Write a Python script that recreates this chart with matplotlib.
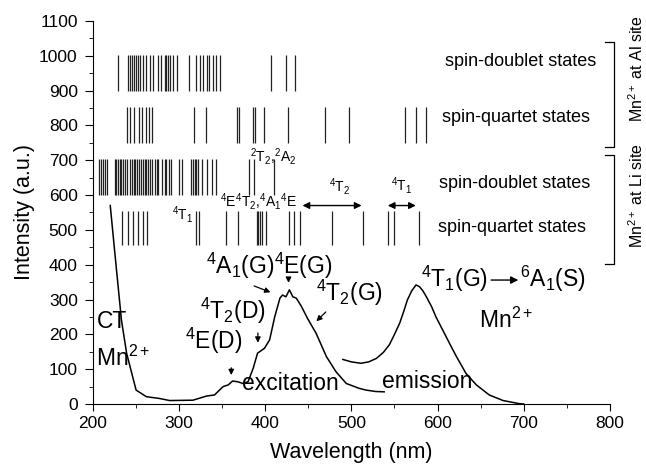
import matplotlib
matplotlib.use('Agg')
import matplotlib.pyplot as plt

plt.rcParams['font.family'] = ['Liberation Sans', 'DejaVu Sans']
plt.rcParams['mathtext.fontset'] = 'custom'
plt.rcParams['mathtext.rm'] = 'Liberation Sans'
plt.rcParams['mathtext.it'] = 'Liberation Sans'

# stick spectra (calculated levels, nm)
al_doublet = [229, 241, 243, 245, 247, 250, 252, 254, 258, 262, 266, 270, 275, 279, 283, 285,
              287, 289, 293, 297, 312, 320, 324, 328, 332, 335, 339, 343, 347, 407, 424, 434]
al_quartet = [239, 243, 248, 253, 257, 261, 265, 268, 317, 331, 367, 369, 386, 388, 399, 426,
              469, 497, 562, 575, 587]
li_doublet = [207, 209, 212, 214, 216, 225, 227, 229, 231, 233, 235, 237, 240, 243, 245, 247,
              249, 251, 253, 256, 258, 260, 262, 264, 266, 268, 272, 274, 276, 280, 283, 285,
              288, 291, 300, 303, 314, 316, 318, 320, 322, 326, 332, 338, 343, 381, 387, 410]
li_quartet = [234, 241, 246, 252, 258, 263, 320, 323, 354, 368, 390, 392, 394, 396, 401, 427,
              433, 440, 477, 514, 542, 549, 578]

# excitation spectrum
exc_wl = [220, 225, 233, 239, 245, 250, 262, 277, 289, 316, 332, 341, 351, 357, 362, 368, 374,
          380, 386, 391, 399, 405, 411, 417, 420, 424, 428, 432, 436, 442, 449, 459, 471, 482,
          494, 509, 517, 528, 538]
exc_int = [570, 442, 241, 146, 88, 40, 21, 16, 10, 11, 23, 26, 50, 55, 66, 64, 59, 64, 103,
           146, 160, 184, 251, 304, 313, 308, 328, 308, 304, 280, 246, 203, 136, 93, 59, 45,
           40, 36, 35]

# emission spectrum
em_wl = [490, 500, 511, 520, 529, 537, 544, 550, 556, 561, 565, 570, 575, 579, 583, 587, 593,
         598, 604, 610, 616, 622, 633, 645, 660, 676, 695, 700]
em_int = [128, 121, 117, 121, 131, 148, 170, 200, 232, 268, 299, 325, 342, 337, 325, 308, 280,
          251, 222, 193, 164, 136, 88, 55, 26, 10, 1, 0]

fig = plt.figure(figsize=(6.46, 4.66), dpi=100)
ax = fig.add_axes([0.144, 0.133, 0.800, 0.822])

lc = '#222222'
ax.vlines(al_doublet, 900, 1003, color=lc, lw=0.9)
ax.vlines(al_quartet, 750, 853, color=lc, lw=0.9)
ax.vlines(li_doublet, 600, 703, color=lc, lw=0.9)
ax.vlines(li_quartet, 457, 555, color=lc, lw=0.9)

ax.plot(exc_wl, exc_int, color='k', lw=1.1)
ax.plot(em_wl, em_int, color='k', lw=1.1)

ax.set_xlim(200, 800)
ax.set_ylim(0, 1100)
ax.set_xticks(range(200, 801, 100))
ax.set_xticks(range(250, 800, 100), minor=True)
ax.set_yticks(range(0, 1101, 100))
ax.set_yticks(range(50, 1100, 100), minor=True)
ax.spines['top'].set_visible(False)
ax.spines['right'].set_visible(False)
ax.tick_params(which='major', direction='out', length=5, labelsize=12.5)
ax.tick_params(axis='y', which='major', length=6, pad=5)
ax.tick_params(which='minor', direction='out', length=3)
ax.set_xlabel('Wavelength (nm)', fontsize=15.5, labelpad=8)
ax.set_ylabel('Intensity (a.u.)', fontsize=15.5, labelpad=3)

# right side labels
st = 13
ax.text(697, 985, 'spin-doublet states', fontsize=st, ha='center', va='center')
ax.text(691, 822, 'spin-quartet states', fontsize=st, ha='center', va='center')
ax.text(689, 634, 'spin-doublet states', fontsize=st, ha='center', va='center')
ax.text(687, 507, 'spin-quartet states', fontsize=st, ha='center', va='center')

# brackets
for top, bot in [(1041, 739), (715, 402)]:
    ax.plot([794, 805, 805, 794], [top, top, bot, bot], color='k', lw=0.9, clip_on=False)
ax.text(831, 962, 'Mn$^{2+}$ at Al site', fontsize=11.5, rotation=90, ha='center', va='center')
ax.text(831, 598, 'Mn$^{2+}$ at Li site', fontsize=11.5, rotation=90, ha='center', va='center')

# level labels
ax.text(304, 543, '$^4$T$_1$', fontsize=10, ha='center', va='center')
ax.text(392, 581, '$^4$E$^4$T$_2$,$^4$A$_1$$^4$E', fontsize=10, ha='center', va='center')
ax.text(409, 712, '$^2$T$_2$,$^2$A$_2$', fontsize=10, ha='center', va='center')
ax.text(486, 625, '$^4$T$_2$', fontsize=10, ha='center', va='center')
ax.text(558, 628, '$^4$T$_1$', fontsize=10, ha='center', va='center')
ax.annotate('', xy=(440, 570), xytext=(515, 570),
            arrowprops=dict(arrowstyle='<|-|>', color='k', lw=1, mutation_scale=10))
ax.annotate('', xy=(539, 570), xytext=(578, 570),
            arrowprops=dict(arrowstyle='<|-|>', color='k', lw=1, mutation_scale=10))

# spectrum labels
big = 16.5
ax.text(205, 236, 'CT', fontsize=big, ha='left', va='center')
ax.text(204, 132, 'Mn$^{2+}$', fontsize=big, ha='left', va='center')
ax.text(340, 180, '$^4$E(D)', fontsize=big, ha='center', va='center')
ax.text(362, 266, '$^4$T$_2$(D)', fontsize=big, ha='center', va='center')
ax.text(405, 398, '$^4$A$_1$(G)$^4$E(G)', fontsize=big, ha='center', va='center')
ax.text(498, 318, '$^4$T$_2$(G)', fontsize=big, ha='center', va='center')
ax.text(429, 59, 'excitation', fontsize=big, ha='center', va='center')
ax.text(588, 64, 'emission', fontsize=big, ha='center', va='center')
ax.text(659, 359, '$^4$T$_1$(G)', fontsize=big, ha='right', va='center')
ax.text(696, 359, '$^6$A$_1$(S)', fontsize=big, ha='left', va='center')
ax.annotate('', xy=(697, 356), xytext=(659, 356),
            arrowprops=dict(arrowstyle='-|>', color='k', lw=1, mutation_scale=11))
ax.text(680, 241, 'Mn$^{2+}$', fontsize=big, ha='center', va='center')

ap = dict(arrowstyle='-|>', color='k', lw=0.9, mutation_scale=8)
ax.annotate('', xy=(360.5, 75), xytext=(360.5, 112), arrowprops=ap)
ax.annotate('', xy=(391.4, 168), xytext=(391.4, 212), arrowprops=ap)
ax.annotate('', xy=(409, 318), xytext=(384, 342), arrowprops=ap)
ax.annotate('', xy=(427, 340), xytext=(427, 366), arrowprops=ap)
ax.annotate('', xy=(457, 232), xytext=(472.6, 270), arrowprops=ap)

fig.savefig('out.png', dpi=100)
